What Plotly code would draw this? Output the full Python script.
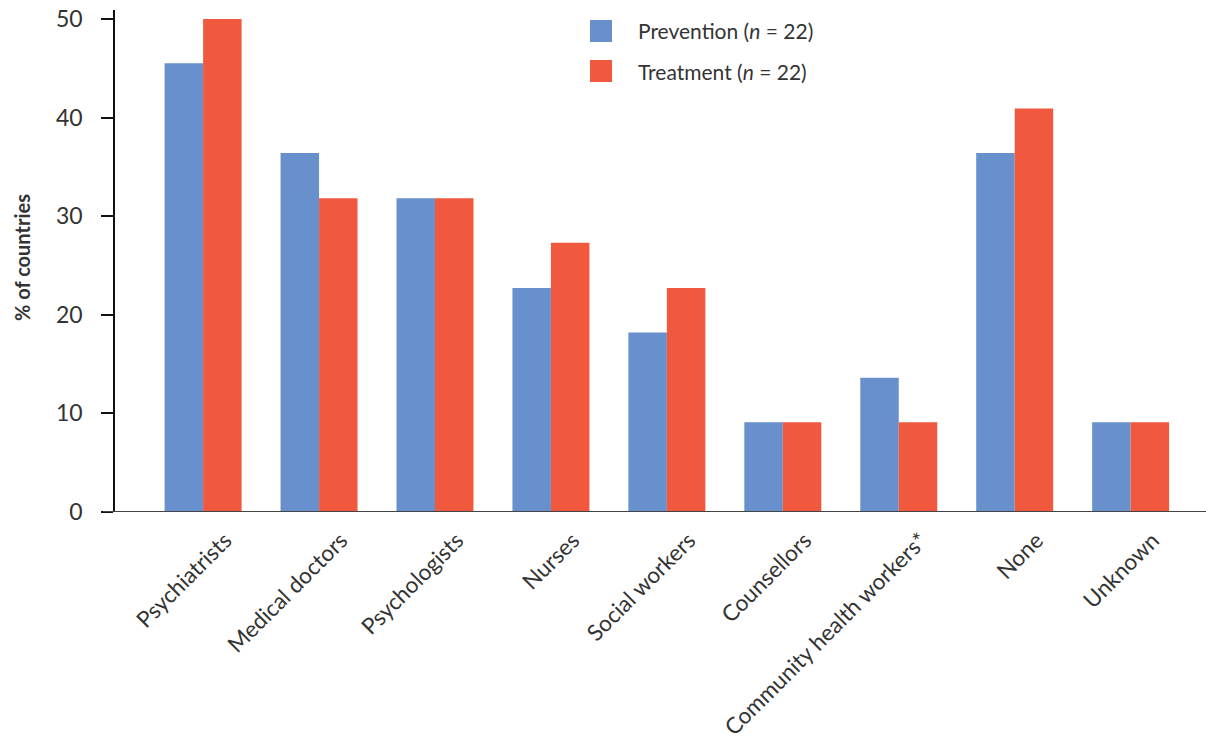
import plotly.graph_objects as go

categories = ["Psychiatrists", "Medical doctors", "Psychologists", "Nurses", "Social workers",
              "Counsellors", "Community health workers*", "None", "Unknown"]
prevention = [45.5, 36.4, 31.8, 22.7, 18.2, 9.1, 13.6, 36.4, 9.1]
treatment = [50.0, 31.8, 31.8, 27.3, 22.7, 9.1, 9.1, 40.9, 9.1]
y_ticks = [0, 10, 20, 30, 40, 50]

BLUE = "#6890CC"
RED = "#F0593D"
FONT = "Lato"
TXT = "#333333"

fig = go.Figure()
fig.add_trace(go.Bar(x=categories, y=prevention, name="Prevention", marker_color=BLUE,
                     marker_line_width=0, showlegend=False))
fig.add_trace(go.Bar(x=categories, y=treatment, name="Treatment", marker_color=RED,
                     marker_line_width=0, showlegend=False))

fig.update_layout(
    width=1206, height=751,
    margin=dict(l=115, r=0, t=10, b=239),
    plot_bgcolor="white", paper_bgcolor="white",
    barmode="group", bargap=0.336, bargroupgap=0,
    font=dict(family=FONT, color=TXT),
    xaxis=dict(range=[-0.76, 8.65], showline=False, ticks="", tickangle=-45, automargin=False,
               tickfont=dict(size=22.5, color=TXT), showgrid=False,
               ticklabelshift=22, ticklabelstandoff=10),
    yaxis=dict(range=[0, 50.9], tickvals=y_ticks, showline=True, linecolor="#111111",
               linewidth=1.5, ticks="outside", ticklen=12, tickwidth=1.5, tickcolor="#111111",
               tickfont=dict(size=23, color=TXT), showgrid=False, zeroline=False,
               automargin=False, ticklabelstandoff=14),
)

# y axis title
fig.add_annotation(text="<b>% of countries</b>", xref="paper", yref="paper",
                   x=-93 / 1091, y=(512 - 258) / 502, xanchor="center", yanchor="middle",
                   textangle=-90, showarrow=False, font=dict(size=20, color=TXT, family=FONT))

# x axis baseline extending left of the y axis
fig.add_shape(type="line", xref="paper", yref="y", x0=-12 / 1091, x1=1, y0=0, y1=0,
              line=dict(color="#444444", width=2))

# legend
for i, (lab, col) in enumerate([("Prevention (<i>n</i> = 22)", BLUE), ("Treatment (<i>n</i> = 22)", RED)]):
    yc = 31 + 40 * i
    fig.add_shape(type="rect", xref="paper", yref="paper",
                  x0=(590 - 115) / 1091, x1=(612 - 115) / 1091,
                  y0=(512 - (yc + 11)) / 502, y1=(512 - (yc - 11)) / 502,
                  fillcolor=col, line_width=0)
    fig.add_annotation(text=lab, xref="paper", yref="paper", x=(636 - 115) / 1091,
                       y=(512 - yc) / 502, xanchor="left", yanchor="middle", showarrow=False,
                       font=dict(size=21, color=TXT, family=FONT))

fig.write_html("out.html", config={"displayModeBar": False},
               post_script="document.body.style.margin='0';document.body.style.overflow='hidden';")
